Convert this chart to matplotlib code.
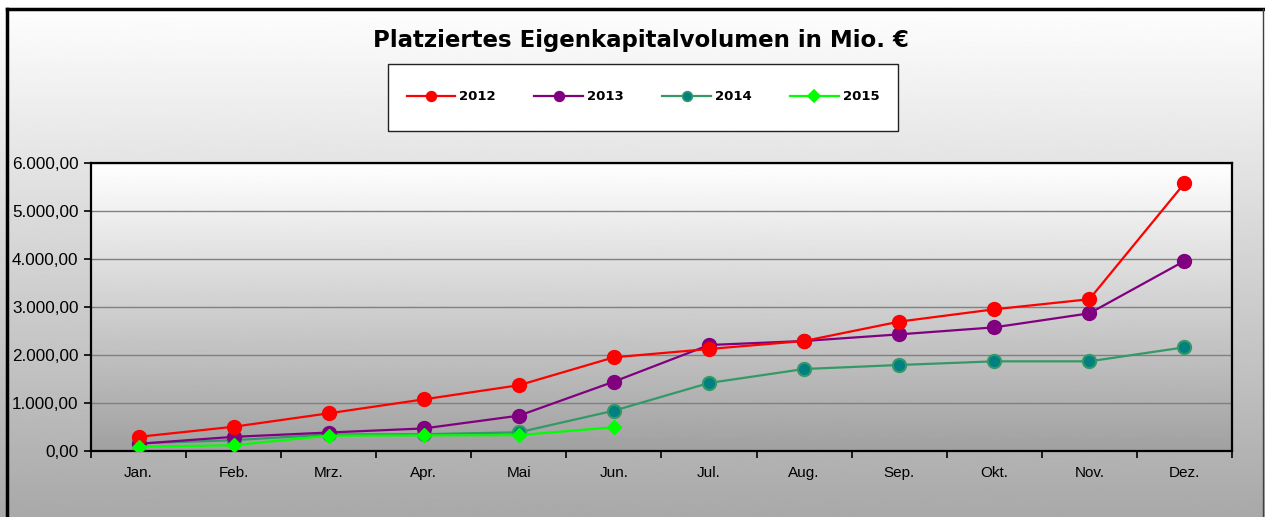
import numpy as np
import matplotlib
matplotlib.use("Agg")
import matplotlib.pyplot as plt
from matplotlib.lines import Line2D
from matplotlib.patches import Rectangle
from matplotlib.ticker import FuncFormatter, MultipleLocator

months = ["Jan.", "Feb.", "Mrz.", "Apr.", "Mai", "Jun.", "Jul.", "Aug.", "Sep.", "Okt.", "Nov.", "Dez."]
v2012 = [295, 505, 785, 1076, 1370, 1952, 2125, 2292, 2695, 2952, 3162, 5578]
v2013 = [150, 295, 385, 470, 736, 1445, 2208, 2292, 2430, 2576, 2868, 3958]
v2014 = [160, 225, 345, 350, 390, 840, 1417, 1708, 1792, 1868, 1868, 2160]
v2015 = [90, 120, 320, 325, 330, 495]
years = ["2012", "2013", "2014", "2015"]

W, H = 1265, 517
fig = plt.figure(figsize=(W / 100, H / 100), dpi=100)

# figure background gradient
bg = fig.add_axes([0, 0, 1, 1], zorder=-10)
grad = np.linspace(1.0, 0.0, 256).reshape(-1, 1)
bg.imshow(grad, aspect="auto", extent=[0, 1, 0, 1], cmap="gray",
          vmin=-1.95, vmax=1.0, origin="upper")
bg.set_xlim(0, 1); bg.set_ylim(0, 1)
bg.axis("off")

# outer border
fx = lambda px: px / W
fy = lambda py: 1 - py / H
fig.add_artist(Line2D([fx(7), fx(1263)], [fy(9), fy(9)], color="black", lw=2.5, transform=fig.transFigure))
fig.add_artist(Line2D([fx(7), fx(7)], [fy(9), -0.01], color="black", lw=2.5, transform=fig.transFigure))
fig.add_artist(Line2D([fx(1263), fx(1263)], [fy(9), -0.01], color="#404040", lw=1.0, transform=fig.transFigure))

# main axes
ax = fig.add_axes([fx(91), fy(451), fx(1232) - fx(91), fy(163) - fy(451)])
ax.set_facecolor("none")
pg = np.linspace(1.0, 0.0, 256).reshape(-1, 1)
ax.imshow(pg, aspect="auto", extent=[0, 1, 0, 1], transform=ax.transAxes,
          cmap="gray", vmin=-1.7, vmax=1.0, origin="upper", zorder=0)

x = np.arange(len(months))
ax.plot(x, v2012, color="#ff0000", lw=1.6, marker="o", ms=10, mfc="#ff0000", mec="#ff0000", zorder=5, label=years[0])
ax.plot(x, v2013, color="#800080", lw=1.6, marker="o", ms=10, mfc="#800080", mec="#800080", zorder=4, label=years[1])
ax.plot(x, v2014, color="#339966", lw=1.6, marker="o", ms=9.5, mfc="#008080", mec="#339966", mew=1.5, zorder=3, label=years[2])
ax.plot(x[:len(v2015)], v2015, color="#00ff00", lw=1.6, marker="D", ms=7.5, mfc="#00ff00", mec="#00ff00", zorder=6, label=years[3])

ax.set_xlim(-0.5, len(months) - 0.5)
ax.set_ylim(0, 6000)
ax.yaxis.set_major_locator(MultipleLocator(1000))
ax.yaxis.set_major_formatter(FuncFormatter(lambda v, p: f"{v:,.2f}".replace(",", "X").replace(".", ",").replace("X", ".")))
ax.grid(axis="y", color="#808080", lw=1.0, zorder=1)
ax.set_axisbelow(True)
ax.set_xticks(x)
ax.set_xticklabels(months, fontfamily="Liberation Sans", fontsize=11)
ax.set_xticks(np.arange(-0.5, len(months), 1.0), minor=True)
ax.tick_params(axis="x", which="major", length=0, pad=11)
ax.tick_params(axis="x", which="minor", length=5, width=1.2, direction="out")
ax.tick_params(axis="y", length=5, width=1.2, direction="out", pad=4)
for lab in ax.get_yticklabels():
    lab.set_fontfamily("Liberation Sans")
    lab.set_fontsize(12.3)
for s in ax.spines.values():
    s.set_linewidth(1.6)
    s.set_color("black")

# title
fig.text(fx(641), fy(40), "Platziertes Eigenkapitalvolumen in Mio. €", ha="center", va="center",
         fontfamily="DejaVu Sans", fontweight="bold", fontsize=16.5)

# legend box
fig.add_artist(Rectangle((fx(388), fy(131)), fx(898) - fx(388), fy(64) - fy(131),
                         transform=fig.transFigure, facecolor="white", edgecolor="#222222", lw=1.0, zorder=1))
handles, labels = ax.get_legend_handles_labels()
hs = []
for h in handles:
    hs.append(Line2D([0], [0], color=h.get_color(), lw=1.6, marker=h.get_marker(),
                     ms=7 if h.get_marker() == "o" else 6, mfc=h.get_markerfacecolor(),
                     mec=h.get_markeredgecolor(), mew=1.2))
leg = fig.legend(hs, labels, loc="center", bbox_to_anchor=(fx(643), fy(97)), ncol=4, frameon=False,
                 handlelength=3.7, handletextpad=0.3, columnspacing=2.9,
                 prop={"family": "DejaVu Sans", "weight": "bold", "size": 9.5})
leg.set_zorder(2)

fig.savefig("out.png", dpi=100)
